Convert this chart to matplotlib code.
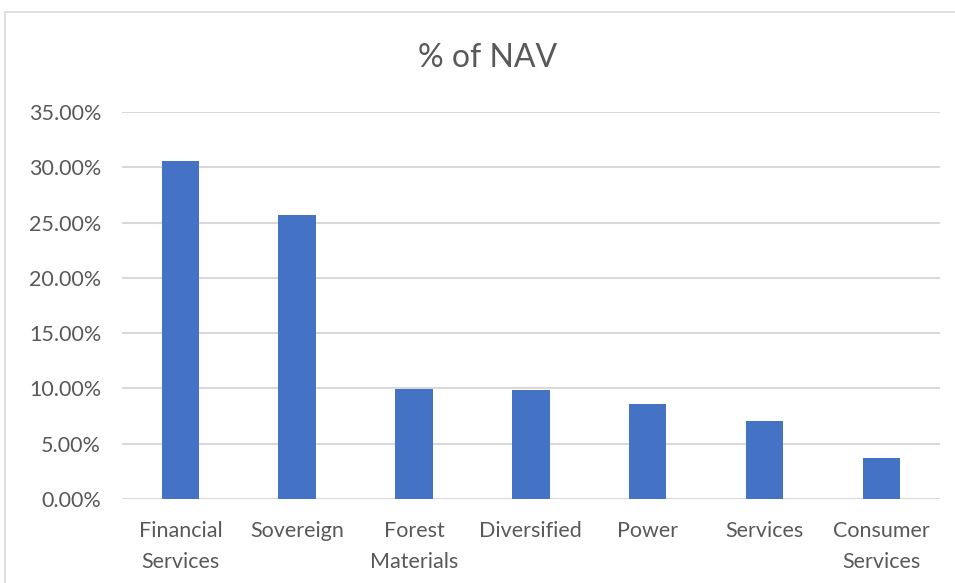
import numpy as np
import matplotlib.pyplot as plt
from matplotlib.patches import Rectangle
from matplotlib.ticker import FuncFormatter

categories = ['Financial\nServices', 'Sovereign', 'Forest\nMaterials', 'Diversified',
              'Power', 'Services', 'Consumer\nServices']
values = [30.6, 25.7, 9.95, 9.86, 8.57, 7.05, 3.69]
yticks = [0, 5, 10, 15, 20, 25, 30, 35]

plt.rcParams['font.family'] = ['Lato', 'DejaVu Sans']

fig = plt.figure(figsize=(9.55, 5.83), dpi=100)
ax = fig.add_axes([0.1277, 0.1441, 0.8563, 0.6638])

# chart border
fig.patches.append(Rectangle((5 / 955, -0.02), 1.0, 1 - 12 / 583 + 0.02,
                             transform=fig.transFigure, fill=False,
                             edgecolor='#d9d9d9', linewidth=1.2))

x = np.arange(len(categories))
ax.bar(x, values, width=0.32, color='#4472C4', zorder=3)

ax.set_xlim(-0.5, len(categories) - 0.5)
ax.set_ylim(0, 35)
ax.set_yticks(yticks)
ax.yaxis.set_major_formatter(FuncFormatter(lambda v, p: f'{v:.2f}%'))
ax.set_xticks(x)
ax.set_xticklabels(categories, linespacing=1.65)

ax.grid(axis='y', color='#d9d9d9', linewidth=1.5, zorder=0)
for s in ax.spines.values():
    s.set_visible(False)
ax.tick_params(axis='both', length=0, labelsize=15.5, colors='#595959')
ax.tick_params(axis='y', pad=15)
ax.tick_params(axis='x', pad=16)

fig.text(0.511, 0.9, '% of NAV', ha='center', va='center', fontsize=23,
         color='#595959')

fig.savefig('out.png', dpi=100)
